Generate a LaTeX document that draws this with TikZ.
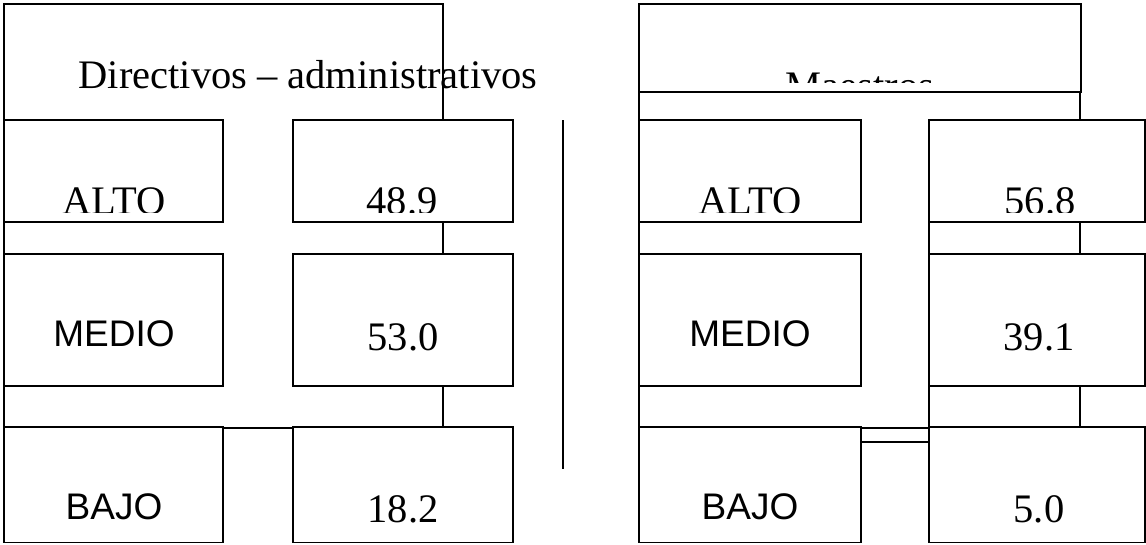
\documentclass[tikz,border=0pt]{standalone}
\usepackage{fontspec}
\setmainfont{Liberation Serif}
\newfontfamily\arialfont{Liberation Sans}
\begin{document}
\begin{tikzpicture}[x=1pt,y=-1pt,
  frameline/.style={draw=black,line width=1.3pt},
  cellbox/.style={draw=black,line width=1.3pt,fill=white,inner sep=0pt,outer sep=0pt,rectangle},
  sertext/.style={font=\fontsize{40.5}{42}\selectfont,anchor=base,inner sep=0pt},
  santext/.style={font=\arialfont\fontsize{37}{40}\selectfont,anchor=base,inner sep=0pt}]
\useasboundingbox (0,0) rectangle (1146,544);
\newcommand\cellat[5]{\node[cellbox,minimum width={(#4-#2)*1pt},minimum height={(#5-#3)*1pt}] (#1) at ({(#2+#4)/2},{(#3+#5)/2}) {};}
% ---------- left panel ----------
\node[cellbox,minimum width=439pt,minimum height=424pt] (bigL) at (223.5,216) {};
\cellat{altoL}{4}{120}{223}{222}
\cellat{valtoL}{293}{120}{513}{222}
\cellat{medioL}{4}{254}{223}{386}
\cellat{vmedioL}{293}{254}{513}{386}
\cellat{bajoL}{4}{427}{223}{542.5}
\cellat{vbajoL}{293}{427}{513}{542.5}
\node[sertext] (titleL) at (308,88.5) {Directivos – administrativos};
\node[santext] (tMedioL) at (114,346) {MEDIO};
\node[sertext] (tVmedioL) at (403,350) {53.0};
\node[santext] (tBajoL) at (114,519) {BAJO};
\node[sertext] (tVbajoL) at (403,522) {18.2};
% divider
\coordinate (divTop) at (563,120);
\coordinate (divBot) at (563,469);
\draw[frameline] (divTop) -- (divBot);
% ---------- right panel ----------
\node[cellbox,minimum width=442pt,minimum height=88pt] (titleBoxR) at (860,48) {};
\node[cellbox,minimum width=441pt,minimum height=336pt] (bigR) at (859.5,260) {};
\coordinate (colTop) at (929,120);
\coordinate (colBot) at (929,542.5);
\draw[frameline] (colTop) -- (colBot);
\coordinate (smallA) at (861,442);
\coordinate (smallB) at (929,442);
\draw[frameline] (smallA) -- (smallB);
\cellat{altoR}{639}{120}{861}{222}
\cellat{valtoR}{929}{120}{1145}{222}
\cellat{medioR}{639}{254}{861}{386}
\cellat{vmedioR}{929}{254}{1145}{386}
\cellat{bajoR}{639}{427}{861}{542.5}
\cellat{vbajoR}{929}{427}{1145}{542.5}
\begin{scope}
  \clip (0,0) rectangle (1146,82);
  \node[sertext] (titleR) at (860,99.5) {Maestros};
\end{scope}
\begin{scope}
  \clip (0,100) rectangle (1146,212);
  \node[sertext] (tAltoL) at (114,214.5) {ALTO};
  \node[sertext] (tValtoL) at (402,214.5) {48.9};
  \node[sertext] (tAltoR) at (750,214.5) {ALTO};
  \node[sertext] (tValtoR) at (1040,214.5) {56.8};
\end{scope}
\node[santext] (tMedioR) at (750,346) {MEDIO};
\node[sertext] (tVmedioR) at (1039,350) {39.1};
\node[santext] (tBajoR) at (750,519) {BAJO};
\node[sertext] (tVbajoR) at (1039,522) {5.0};
\end{tikzpicture}
\end{document}
